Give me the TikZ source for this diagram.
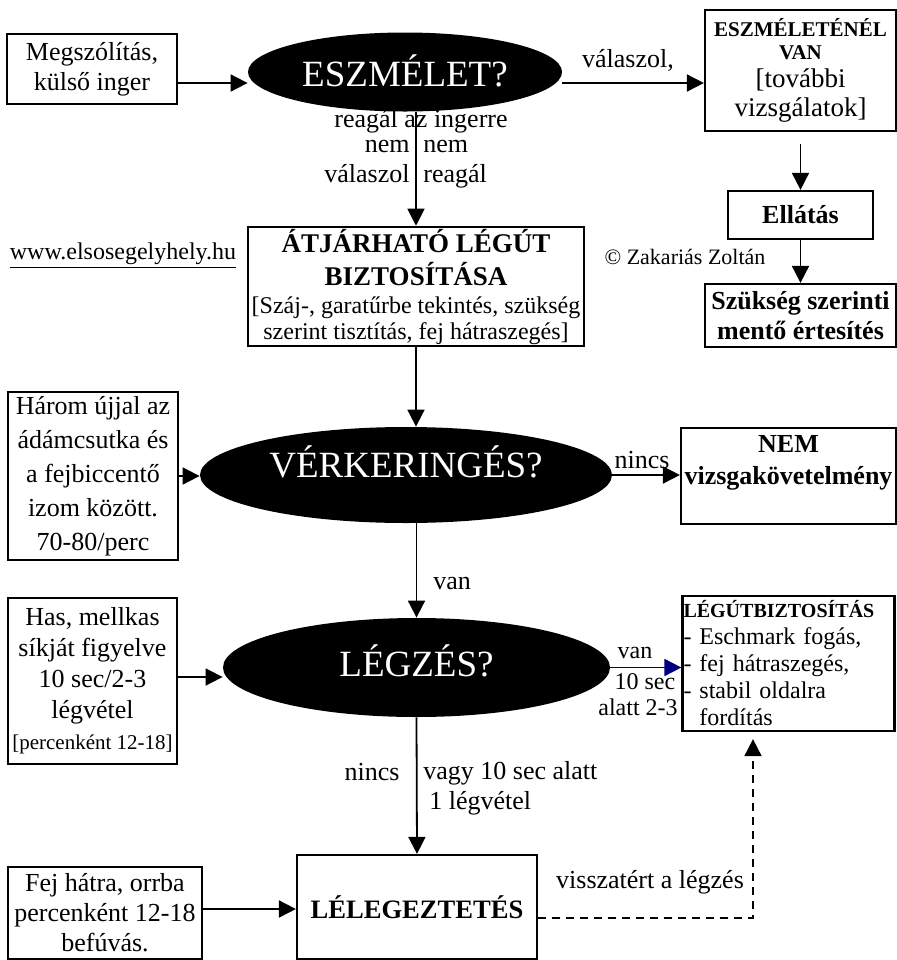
\documentclass[tikz,border=0pt]{standalone}
\usepackage{fontspec}
\setmainfont{Liberation Serif}
\usetikzlibrary{shapes.geometric,arrows.meta}
\newcommand{\fs}[2]{\fontsize{#1}{#2}\selectfont}
\definecolor{arrblue}{RGB}{0,0,128}
\tikzset{
  box/.style={draw, line width=1.1pt, inner sep=1pt, align=center},
  oval/.style={ellipse, fill=black, text=white, inner sep=0pt, font=\fs{18.5}{22}},
  arr/.style={-{Triangle[length=8.5pt,width=8.5pt]}, line width=0.9pt},
  lbl/.style={inner sep=0pt, align=center, font=\fs{13}{15}}
}

\begin{document}
\begin{tikzpicture}[x=0.5pt, y=-0.5pt]
\useasboundingbox (0,0) rectangle (897,960);
\node[box, minimum width=85pt, minimum height=35pt, font=\fs{13}{15}] (inger) at (92,69) {Megszólítás,\\külső inger};
\node[oval, minimum width=157pt, minimum height=39.5pt, text height=15pt] (eszm) at (405,72) {ESZMÉLET?};
\node[box, minimum width=95.5pt, minimum height=60.5pt, font=\fs{13.5}{14.5}] (tudat) at (800.5,70.5)
  {{\fs{10.5}{11.5}\bfseries ESZMÉLETÉNÉL}\\[-3pt]{\fs{10.5}{11.5}\bfseries VAN}\\[-0.5pt][további\\vizsgálatok]};
\node[box, minimum width=72.5pt, minimum height=24pt, font=\fs{13}{15}\bfseries] (ellatas) at (800.5,215) {Ellátás};
\node[box, minimum width=95.5pt, minimum height=31.5pt, font=\fs{13}{15}\bfseries] (mento) at (800.5,315.5) {Szükség szerinti\\mentő értesítés};
\node[lbl, font=\fs{11}{13}] (copy) at (685,257) {© Zakariás Zoltán};
\node[lbl, font=\fs{12}{14}] (web) at (123,256) {\underline{www.elsosegelyhely.hu}};
\node[box, minimum width=168pt, minimum height=59.5pt, font=\fs{13.5}{16.5}] (legut) at (416,286.5)
  {\textbf{ÁTJÁRHATÓ LÉGÚT}\\\textbf{BIZTOSÍTÁSA}\\[-2.5pt]{\fs{12}{13}[Száj-, garatűrbe tekintés, szükség}\\[-3.5pt]{\fs{12}{13}szerint tisztítás, fej hátraszegés]}};
\node[box, minimum width=85pt, minimum height=84pt, font=\fs{13}{17}] (harom) at (93,476)
  {Három újjal az\\ádámcsutka és\\a fejbiccentő\\izom között.\\70-80/perc};
\node[oval, minimum width=206pt, minimum height=48pt, text depth=13pt] (verk) at (406,475) {VÉRKERINGÉS?};
\node[box, minimum width=107.5pt, minimum height=48pt, font=\fs{13}{16}\bfseries] (nem) at (788.5,476)
  {NEM\\vizsgakövetelmény\\\mbox{}};
\node[box, minimum width=84.5pt, minimum height=83pt, font=\fs{13}{15.5}] (has) at (92.5,681)
  {Has, mellkas\\síkját figyelve\\10 sec/2-3\\légvétel\\{\fs{10.5}{12}[percenként 12-18]}};
\node[oval, minimum width=193.5pt, minimum height=49.5pt, text depth=7pt] (legz) at (416.5,667.5) {LÉGZÉS?};
\node[box, minimum height=67.5pt, text width=105pt, inner xsep=0.5pt, align=left, font=\fs{12}{13.5}] (legutb) at (788.5,663.5)
  {{\fs{10}{13.5}\bfseries LÉGÚTBIZTOSÍTÁS}\\- Eschmark fogás,\\- fej hátraszegés,\\- stabil oldalra\\\phantom{- }fordítás};
\node[box, minimum width=120pt, minimum height=52pt, font=\fs{13.3}{15}\bfseries] (lelegz) at (417,907) {LÉLEGEZTETÉS};
\node[box, minimum width=97pt, minimum height=46pt, font=\fs{13}{15}] (fej) at (105,913)
  {Fej hátra, orrba\\percenként 12-18\\befúvás.};

\draw[arr] ([yshift=-7pt]inger.east) -- ([yshift=-5.5pt]eszm.west);
\draw[arr] ([yshift=-5.5pt]eszm.east) -- ([yshift=-6.25pt]tudat.west);
\node[lbl] (valasz) at (628,60) {válaszol,};
\draw[arr] ([yshift=-6pt]tudat.south) -- (ellatas.north);
\draw[arr] (ellatas.south) -- (mento.north);
\draw[arr] (eszm.south -| legut.north) -- (legut.north);
\node[lbl] (reag) at (421,121) {reagál az ingerre};
\node[lbl, anchor=north east, align=right] (nemv) at (410,140) {nem\\válaszol};
\node[lbl, anchor=north west, align=left] (nemr) at (423,140) {nem\\reagál};
\draw[arr] (legut.south) -- (legut.south |- verk.north);
\draw[arr] (harom.east) -- (harom.east -| verk.west);
\draw[arr] (verk.east) -- (verk.east -| nem.west);
\node[lbl] (nincs1) at (642,460) {nincs};
\draw[arr] (verk.south -| legz.north) -- (legz.north);
\node[lbl, anchor=west] (van1) at (433,583) {van};
\draw[arr] ([yshift=2pt]has.east) -- ([yshift=2pt]has.east -| legz.west);
\draw[arr, draw=arrblue, fill=arrblue] (legz.east) -- (legz.east -| legutb.west);
\node[lbl, font=\fs{12}{13}] (van2) at (635,653) {van};
\node[lbl, font=\fs{12}{13}] (tiz) at (638,695) {\hspace*{7pt}10 sec\\alatt 2-3};
\draw[arr] (legz.south) -- (lelegz.north);
\node[lbl] (nincs2) at (372,772) {nincs};
\node[lbl, anchor=west, align=left] (vagy) at (423,788) {vagy 10 sec alatt\\\hspace*{3pt}1 légvétel};
\draw[arr] ([yshift=2pt]fej.east) -- ([yshift=2pt]fej.east -| lelegz.west);
\draw[arr, dashed, dash pattern=on 4pt off 3pt] ([yshift=-5.5pt]lelegz.east) -| ([xshift=-17.75pt,yshift=-3.5pt]legutb.south);
\node[lbl] (vissza) at (650,882) {visszatért a légzés};
\end{tikzpicture}
\end{document}
